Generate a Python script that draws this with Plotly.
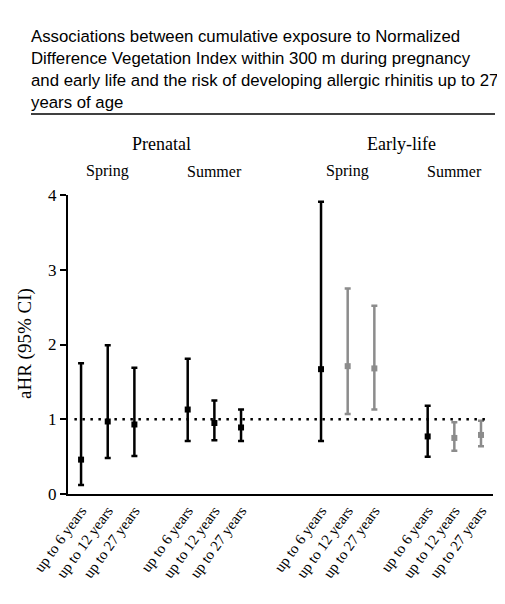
import plotly.graph_objects as go

# data
periods = ["Prenatal", "Early-life"]
seasons = ["Spring", "Summer"]
outcomes = ["up to 6 years", "up to 12 years", "up to 27 years"]

# aHR and 95% CI, order: Prenatal Spring, Prenatal Summer, Early-life Spring, Early-life Summer
ahr = [0.46, 0.97, 0.93, 1.13, 0.95, 0.89, 1.67, 1.71, 1.68, 0.77, 0.75, 0.79]
ci_low = [0.12, 0.48, 0.51, 0.71, 0.72, 0.71, 0.71, 1.07, 1.13, 0.50, 0.58, 0.64]
ci_high = [1.75, 1.99, 1.69, 1.81, 1.25, 1.13, 3.91, 2.75, 2.52, 1.18, 0.96, 0.98]

# build x positions: 1 between outcomes, one empty slot between seasons, two between periods
xs, labels, colors = [], [], []
season_centres, period_centres = [], []
pos = 0
for p, period in enumerate(periods):
    p_start = pos
    for s, season in enumerate(seasons):
        s_start = pos
        for o, out in enumerate(outcomes):
            xs.append(pos)
            labels.append(out)
            # early-life, 12 and 27 years drawn in grey
            colors.append("#8c8c8c" if (p == 1 and o > 0) else "black")
            pos += 1
        season_centres.append((s_start + pos - 1) / 2)
        pos += 1
    period_centres.append((p_start + pos - 2) / 2)
    pos += 1

# page layout (page has an 8px body margin)
OFF = 8
PL, PR, PT, PB = 68, 493, 195, 494   # plot area in page pixels


def px(xp):
    return (xp - PL) / (PR - PL)


def py(yp):
    return (PB - yp) / (PB - PT)


fig = go.Figure()
for i in range(len(xs)):
    fig.add_trace(go.Scatter(
        x=[xs[i]], y=[ahr[i]], mode="markers",
        marker=dict(symbol="square", size=6, color=colors[i]),
        error_y=dict(type="data", symmetric=False,
                     array=[ci_high[i] - ahr[i]], arrayminus=[ahr[i] - ci_low[i]],
                     color=colors[i], thickness=2.5, width=3),
        showlegend=False,
    ))

fig.add_shape(type="line", x0=-0.25, x1=15.25, y0=1, y1=1, xref="x", yref="y",
              line=dict(color="black", width=2.5, dash="2.5px,5.5px"))
fig.add_shape(type="line", xref="paper", yref="paper", x0=px(31), x1=px(495),
              y0=py(114), y1=py(114), line=dict(color="black", width=1.5))

serif = "Liberation Serif, Times New Roman, serif"
for c, name in zip(period_centres, periods):
    fig.add_annotation(x=c, y=py(144), xref="x", yref="paper", text=name, showarrow=False,
                       yanchor="middle", font=dict(family=serif, size=18, color="black"))
for i, c in enumerate(season_centres):
    fig.add_annotation(x=c, y=py(171), xref="x", yref="paper", text=seasons[i % 2],
                       showarrow=False, yanchor="middle",
                       font=dict(family=serif, size=16, color="black"))

fig.add_annotation(x=px(25), y=py(344), xref="paper", yref="paper", text="aHR (95% CI)",
                   textangle=-90, showarrow=False, xanchor="center", yanchor="middle",
                   font=dict(family=serif, size=19, color="black"))

title = ("Associations between cumulative exposure to Normalized<br>"
         "Difference Vegetation Index within 300 m during pregnancy<br>"
         "and early life and the risk of developing allergic rhinitis up to 27<br>"
         "years of age")
fig.add_annotation(x=px(29), y=py(69), xref="paper", yref="paper",
                   xanchor="left", yanchor="middle", align="left", text=title, showarrow=False,
                   font=dict(family="Liberation Sans, Arial, sans-serif", size=16.8, color="black"))

fig.update_layout(
    width=505 - OFF, height=604 - OFF,
    margin=dict(l=PL - OFF, r=505 - PR, t=PT - OFF, b=604 - PB),
    paper_bgcolor="white", plot_bgcolor="white",
    font=dict(family=serif, color="black"),
)
fig.update_xaxes(range=[-0.49, 15.45], tickvals=xs, ticktext=labels, tickangle=-54,
                 showgrid=False, zeroline=False, showline=True, linecolor="black", linewidth=2,
                 ticks="", tickfont=dict(family=serif, size=15, color="black"))
fig.update_yaxes(range=[0, 4], tickvals=[0, 1, 2, 3, 4], showgrid=False, zeroline=False,
                 showline=True, linecolor="black", linewidth=2, ticks="outside", ticklen=6,
                 tickwidth=2, tickcolor="black",
                 tickfont=dict(family=serif, size=17, color="black"))

fig.write_html("out.html")
